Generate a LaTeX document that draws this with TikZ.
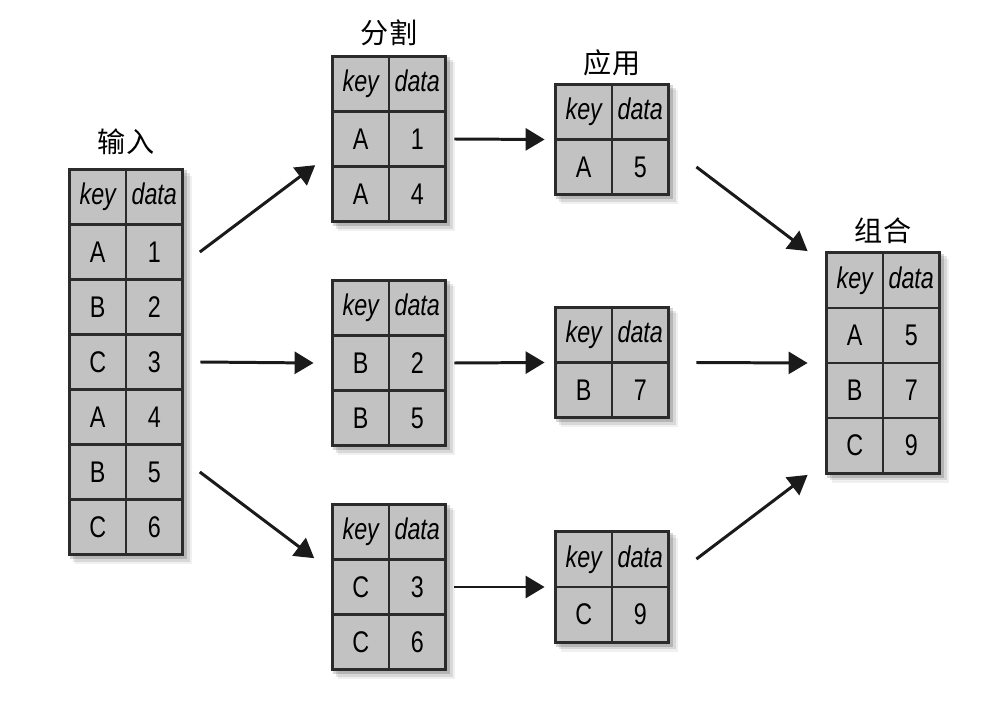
\documentclass[tikz,border=0pt]{standalone}
\usepackage{fontspec}
\setmainfont{Liberation Sans}[FakeStretch=0.78]
\newfontfamily\zhfont{Noto Sans CJK SC}
\usetikzlibrary{arrows.meta,positioning,matrix,backgrounds}
\definecolor{cellg}{HTML}{C2C2C2}
\definecolor{edge}{HTML}{2B2B2B}
\definecolor{arr}{HTML}{1A1A1A}
\tikzset{
  cell/.style={draw=edge, fill=cellg, line width=1.5pt, inner sep=0pt, anchor=center,
    minimum width=1.13cm, minimum height=1.1cm, font=\fontsize{17}{17}\selectfont},
  hcell/.style={cell, text height=12.4pt, text depth=3.6pt,
    font=\fontsize{17}{17}\selectfont\itshape},
  tbl/.style={matrix of nodes, nodes={cell}, row 1/.style={nodes={hcell}},
    column sep=-1.5pt, row sep=-1.5pt, inner sep=-0.75pt,
    draw=edge, line width=2.2pt},
  flow/.style={-{Triangle[length=3.8mm, width=4.4mm]}, line width=1.7pt, draw=arr},
  ttl/.style={font=\zhfont\fontsize{16}{16}\selectfont, inner sep=1pt},
}
% soft shadow behind a table
\newcommand{\tblshadow}[1]{%
  \begin{scope}[on background layer]
    \foreach \s/\o in {1.5pt/.16,3pt/.10,4.5pt/.06}
      \fill[black, opacity=\o] ([shift={(\s,-\s)}]#1.north west) rectangle ([shift={(\s,-\s)}]#1.south east);
  \end{scope}}

\begin{document}
\begin{tikzpicture}[x=0.02cm,y=-0.02cm]
\useasboundingbox (0,0) rectangle (1000,702);

% ===================== input ========================
\matrix[tbl] (in) at (126,362) {
  key & data \\
  A & 1 \\
  B & 2 \\
  C & 3 \\
  A & 4 \\
  B & 5 \\
  C & 6 \\
};
\node[ttl, above=0.22cm of in] (inlab) {输入};

% ===================== split ========================
\matrix[tbl] (sA) at (389,139) {
  key & data \\
  A & 1 \\
  A & 4 \\
};
\matrix[tbl] (sB) at (389,363) {
  key & data \\
  B & 2 \\
  B & 5 \\
};
\matrix[tbl] (sC) at (389,587) {
  key & data \\
  C & 3 \\
  C & 6 \\
};
\node[ttl, above=0.14cm of sA] (slab) {分割};

% ===================== apply ========================
\matrix[tbl] (aA) at (612,139.5) {
  key & data \\
  A & 5 \\
};
\matrix[tbl] (aB) at (612,362.5) {
  key & data \\
  B & 7 \\
};
\matrix[tbl] (aC) at (612,587) {
  key & data \\
  C & 9 \\
};
\node[ttl, above=0.1cm of aA] (alab) {应用};

% ===================== combine ========================
\matrix[tbl] (cmb) at (883,363) {
  key & data \\
  A & 5 \\
  B & 7 \\
  C & 9 \\
};
\node[ttl, above=0.1cm of cmb] (clab) {组合};

\foreach \t in {in,sA,sB,sC,aA,aB,aC,cmb} {\tblshadow{\t}}

% arrows
\draw[flow] ([xshift=0.32cm]in-2-2.east) -- ([xshift=-0.32cm]sA-3-1.north west);
\draw[flow] ([xshift=0.32cm]in.east) -- ([xshift=-0.34cm]sB.west);
\draw[flow] ([xshift=0.32cm]in-6-2.east) -- ([xshift=-0.34cm]sC-2-1.north west);
\draw[flow] ([xshift=0.14cm]sA.east) -- ([xshift=-0.18cm]aA.west);
\draw[flow] ([xshift=0.14cm]sB.east) -- ([xshift=-0.18cm]aB.west);
\draw[flow] ([xshift=0.14cm]sC.east) -- ([xshift=-0.18cm]aC.west);
\draw[flow] ([xshift=0.52cm,yshift=-0.55cm]aA.east) -- ([xshift=-0.34cm]cmb.north west);
\draw[flow] ([xshift=0.52cm]aB.east) -- ([xshift=-0.34cm]cmb.west);
\draw[flow] ([xshift=0.52cm,yshift=0.56cm]aC.east) -- ([xshift=-0.34cm]cmb.south west);

\end{tikzpicture}
\end{document}
